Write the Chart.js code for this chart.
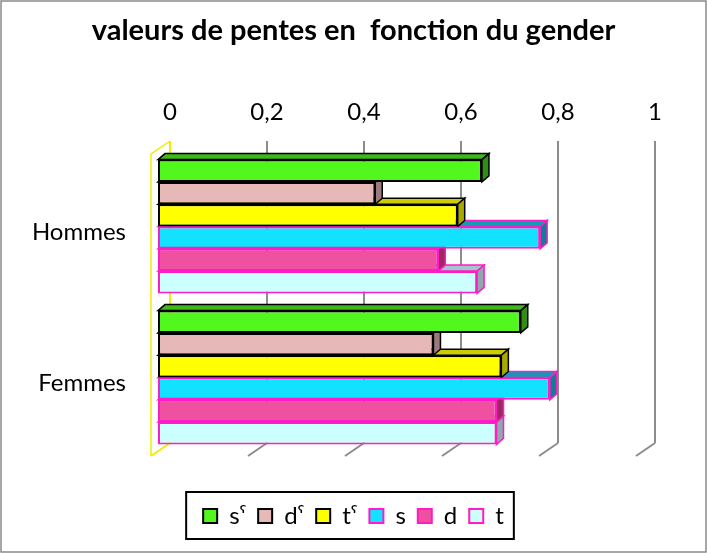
<!DOCTYPE html>
<html>
<head>
<meta charset="utf-8">
<script src="https://cdn.jsdelivr.net/npm/chart.js@4.4.0/dist/chart.umd.min.js"></script>
<style>
  html, body { margin: 0; padding: 0; background: #fff; }
</style>
</head>
<body>
<canvas id="myChart" width="707" height="553"></canvas>
<script>
'use strict';

// data
let categories = ['Hommes', 'Femmes'];
let seriesNames = ['sˤ', 'dˤ', 'tˤ', 's', 'd', 't'];
let sPharyn = [0.67, 0.75];
let dPharyn = [0.45, 0.57];
let tPharyn = [0.62, 0.71];
let sPlain = [0.79, 0.81];
let dPlain = [0.58, 0.70];
let tPlain = [0.66, 0.70];
let tickLabels = ['0', '0,2', '0,4', '0,6', '0,8', '1'];
let seriesValues = [sPharyn, dPharyn, tPharyn, sPlain, dPlain, tPlain];

// styles
let fillColors = ['#52F71E', '#E6B9B8', '#FFFF00', '#12E1FF', '#F050A0', '#CCFFFF'];
let borderColors = ['#000000', '#000000', '#000000', '#FF1CC8', '#FF1CC8', '#FF1CC8'];
let topColors = ['#3FB81B', '#B89393', '#CCCC00', '#0E9DB4', '#B83A78', '#A3C6CA'];
let sideColors = ['#2F8E14', '#9C7A79', '#A8A800', '#0C8096', '#A02860', '#8EA8AC'];

const depth = { dx: 7, dy: -6 };
const shift = { dx: -13, dy: 10 };
const wall = { dx: -19, dy: 13 };

Chart.defaults.font.family = 'Lato';
Chart.defaults.color = '#000';

// fake 3d: floor, wall and bar depth faces
const fakeThreeD = {
  id: 'fakeThreeD',
  beforeDraw(chart) {
    const ctx = chart.ctx;
    ctx.save();
    ctx.fillStyle = '#fff';
    ctx.fillRect(0, 0, chart.width, chart.height);
    ctx.restore();
  },
  beforeDatasetsDraw(chart) {
    const ctx = chart.ctx;
    const area = chart.chartArea;
    const xs = chart.scales.x;

    ctx.save();
    ctx.lineWidth = 2;
    xs.ticks.forEach(t => {
      const px = xs.getPixelForValue(t.value);
      ctx.strokeStyle = t.value === 0 ? '#EEEE00' : '#8C8C8C';
      ctx.beginPath();
      ctx.moveTo(px, area.bottom);
      ctx.lineTo(px + wall.dx, area.bottom + wall.dy);
      ctx.stroke();
    });
    const x0 = xs.getPixelForValue(0);
    ctx.strokeStyle = '#EEEE00';
    ctx.lineWidth = 1.5;
    ctx.beginPath();
    ctx.moveTo(x0, area.top);
    ctx.lineTo(x0 + wall.dx, area.top + wall.dy);
    ctx.lineTo(x0 + wall.dx, area.bottom + wall.dy);
    ctx.stroke();
    ctx.restore();

    // this save is closed in afterDatasetsDraw
    ctx.save();
    ctx.translate(shift.dx, shift.dy);
    for (let i = chart.data.datasets.length - 1; i >= 0; i--) {
      const meta = chart.getDatasetMeta(i);
      meta.data.forEach(bar => {
        const p = bar.getProps(['x', 'y', 'base', 'height'], true);
        const top = p.y - p.height / 2;
        const bottom = p.y + p.height / 2;
        const left = p.base;
        const right = p.x;
        ctx.lineWidth = 1.5;
        ctx.strokeStyle = borderColors[i];

        ctx.fillStyle = topColors[i];
        ctx.beginPath();
        ctx.moveTo(left, top);
        ctx.lineTo(left + depth.dx, top + depth.dy);
        ctx.lineTo(right + depth.dx, top + depth.dy);
        ctx.lineTo(right, top);
        ctx.closePath();
        ctx.fill();
        ctx.stroke();

        ctx.fillStyle = sideColors[i];
        ctx.beginPath();
        ctx.moveTo(right, top);
        ctx.lineTo(right + depth.dx, top + depth.dy);
        ctx.lineTo(right + depth.dx, bottom + depth.dy);
        ctx.lineTo(right, bottom);
        ctx.closePath();
        ctx.fill();
        ctx.stroke();
      });
    }
  },
  afterDatasetsDraw(chart) {
    chart.ctx.restore();
  },
  afterDraw(chart) {
    const ctx = chart.ctx;
    const hb = chart.legend.legendHitBoxes;
    const l = Math.min(...hb.map(h => h.left));
    const r = Math.max(...hb.map(h => h.left + h.width));
    ctx.save();
    ctx.strokeStyle = '#000';
    ctx.lineWidth = 2;
    ctx.strokeRect(l - 17, hb[0].top - 12, (r - l) + 27, hb[0].height + 23);
    ctx.strokeStyle = '#8A8A8A';
    ctx.lineWidth = 1.5;
    ctx.strokeRect(1, 1, chart.width - 2, chart.height - 2);
    ctx.restore();
  }
};

let datasets = [];
for (let i = 0; i < seriesNames.length; i++) {
  datasets.push({
    label: seriesNames[i],
    data: seriesValues[i],
    yAxisID: 'y',
    backgroundColor: fillColors[i],
    borderColor: borderColors[i],
    borderWidth: 2,
    borderSkipped: false,
    categoryPercentage: 0.886,
    barPercentage: 1
  });
}

let ctx = document.getElementById('myChart').getContext('2d');
let myChart = new Chart(ctx, {
  type: 'bar',
  data: {
    labels: categories,
    datasets: datasets
  },
  plugins: [fakeThreeD],
  options: {
    indexAxis: 'y',
    responsive: false,
    animation: false,
    layout: { padding: { left: 0, right: 0, top: 0, bottom: 15 } },
    plugins: {
      title: {
        display: true,
        text: 'valeurs de pentes en  fonction du gender',
        font: { size: 29, weight: 'bold' },
        color: '#000',
        padding: { top: 13, bottom: 9 }
      },
      legend: {
        position: 'bottom',
        title: { display: true, text: '', font: { size: 10 }, padding: { top: 37, bottom: 0 } },
        labels: {
          boxWidth: 14,
          boxHeight: 14,
          padding: 12,
          color: '#000',
          font: { size: 24 }
        }
      },
      tooltip: { enabled: false }
    },
    scales: {
      x: {
        position: 'top',
        min: 0,
        max: 1,
        ticks: {
          stepSize: 0.2,
          padding: 14,
          font: { size: 24 },
          color: '#000',
          callback: (value, index) => tickLabels[index]
        },
        grid: {
          drawTicks: false,
          lineWidth: 2,
          color: c => (c.tick && c.tick.value === 0) ? '#EEEE00' : '#8C8C8C'
        },
        border: { display: false },
        afterFit: scale => { scale.height = 84.2; }
      },
      y: {
        position: 'left',
        ticks: {
          padding: 44,
          labelOffset: 16,
          font: { size: 24 },
          color: '#000'
        },
        grid: { display: false, drawTicks: false },
        border: { display: false },
        afterFit: scale => { scale.width = 170; }
      },
      yRight: {
        type: 'category',
        position: 'right',
        ticks: { display: false },
        grid: { display: false, drawTicks: false },
        border: { display: false },
        afterFit: scale => { scale.width = 52; }
      }
    }
  }
});
</script>
</body>
</html>
